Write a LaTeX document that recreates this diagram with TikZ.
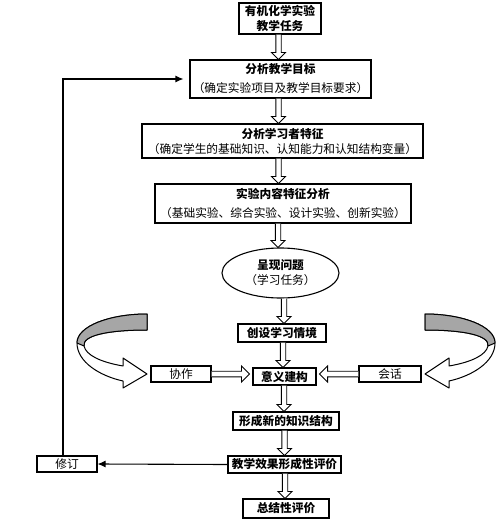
\documentclass[tikz,border=0pt]{standalone}
\usepackage{fontspec}
\setmainfont{Noto Sans CJK SC}
\usetikzlibrary{calc,shapes.geometric,arrows.meta}
\newcommand\hdown[3][0]{%
  \draw[hollow] ($(#2.south)+(#1-2.7,0)$) -- ($(#2.south |- #3.north)+(#1-2.7,-7)$) -- ++(-4.3,0)
    -- ($(#2.south |- #3.north)+(#1,0)$) -- ++(7,-7) -- ++(-4.3,0) -- ($(#2.south)+(#1+2.7,0)$);}
\newcommand\hright[2]{%
  \draw[hollow] ($(#1.east)+(0,-2.8)$) -- ($(#2.west |- #1.east)+(-11,-2.8)$) -- ++(0,-5.2)
    -- ($(#2.west |- #1.east)+(-3,0)$) -- ++(-8,8) -- ++(0,-5.2) -- ($(#1.east)+(0,2.8)$);}
\newcommand\hleft[2]{%
  \draw[hollow] ($(#1.west)+(0,-2.8)$) -- ($(#2.east |- #1.west)+(11,-2.8)$) -- ++(0,-5.2)
    -- ($(#2.east |- #1.west)+(3,0)$) -- ++(8,8) -- ++(0,-5.2) -- ($(#1.west)+(0,2.8)$);}
\newcommand\curvedarrow{%
  \draw[line width=1pt, fill=white, line join=round] (147,314) .. controls (110,314) and (77,326) .. (77,343)
    .. controls (77,362) and (100,376) .. (123,381) -- (123,388) -- (147,374) -- (123,358) -- (123,366)
    .. controls (100,362) and (86,355) .. (84,346) .. controls (82,335) and (110,330) .. (147,330) -- cycle;
  \draw[line width=1pt, fill=black!35, line join=round] (147,314) .. controls (110,314) and (77,326) .. (77,343)
    -- (84,346) .. controls (82,335) and (110,330) .. (147,330) -- cycle;}
\begin{document}
\begin{tikzpicture}[x=1pt,y=-1pt,
  box/.style={draw, line width=1.1pt, fill=white, inner sep=0pt, align=center,
    font=\fontsize{11.7}{15}\selectfont},
  bbox/.style={box, font=\bfseries\fontsize{11.7}{15}\selectfont},
  hollow/.style={draw, line width=0.9pt, fill=white, line join=miter},
  fb/.style={line width=1.1pt, -{Latex[length=8pt,width=7pt]}}
]
\fill[white] (0,0) rectangle (500,530);
\useasboundingbox (0,0) rectangle (500,530);

\node[bbox, minimum width=82pt, minimum height=31pt] (task) at (280,18.5) {有机化学实验\\教学任务};
\node[box, minimum width=181pt, minimum height=38pt] (goal) at (280.5,79)
  {\textbf{分析教学目标}\\[4pt]（确定实验项目及教学目标要求）};
\node[box, minimum width=281pt, minimum height=34pt] (learner) at (282.5,141)
  {\textbf{分析学习者特征}\\（确定学生的基础知识、认知能力和认知结构变量）};
\node[box, minimum width=256pt, minimum height=39pt] (content) at (283,203.5)
  {\textbf{实验内容特征分析}\\[4pt]（基础实验、综合实验、设计实验、创新实验）};
\node[box, ellipse, minimum width=117pt, minimum height=50pt] (problem) at (280.5,273)
  {\textbf{呈现问题}\\（学习任务）};
\node[bbox, minimum width=88pt, minimum height=18pt] (create) at (282,333) {创设学习情境};
\node[box, minimum width=60pt, minimum height=16pt] (cooperate) at (181,374) {协作};
\node[bbox, minimum width=63pt, minimum height=17pt] (meaning) at (284.5,376.5) {意义建构};
\node[box, minimum width=62pt, minimum height=16pt] (talk) at (390,374) {会话};
\node[bbox, minimum width=106pt, minimum height=18pt] (form) at (286,421) {形成新的知识结构};
\node[bbox, minimum width=113pt, minimum height=17pt] (eval) at (284.5,464.5) {教学效果形成性评价};
\node[box, minimum width=60pt, minimum height=16pt] (revise) at (67,464) {修订};
\node[bbox, minimum width=86pt, minimum height=19pt] (summary) at (286,508.5) {总结性评价};

\hdown[-1.5]{task}{goal}
\hdown[-2]{goal}{learner}
\hdown[-4]{learner}{content}
\hdown[-5]{content}{problem}
\hdown[3.5]{problem}{create}
\hdown[1]{create}{meaning}
\hdown[-0.5]{meaning}{form}
\hdown[-1.5]{form}{eval}
\hdown[0.5]{eval}{summary}
\hright{cooperate}{meaning}
\hleft{talk}{meaning}

\curvedarrow
\begin{scope}[shift={(572,0)}, xscale=-1]
\curvedarrow
\end{scope}

\draw[fb] (eval.west) -- (revise.east);
\draw[fb, shorten >=6pt] ($(revise.north)+(-4,0)$) |- (goal.west);
\end{tikzpicture}
\end{document}
